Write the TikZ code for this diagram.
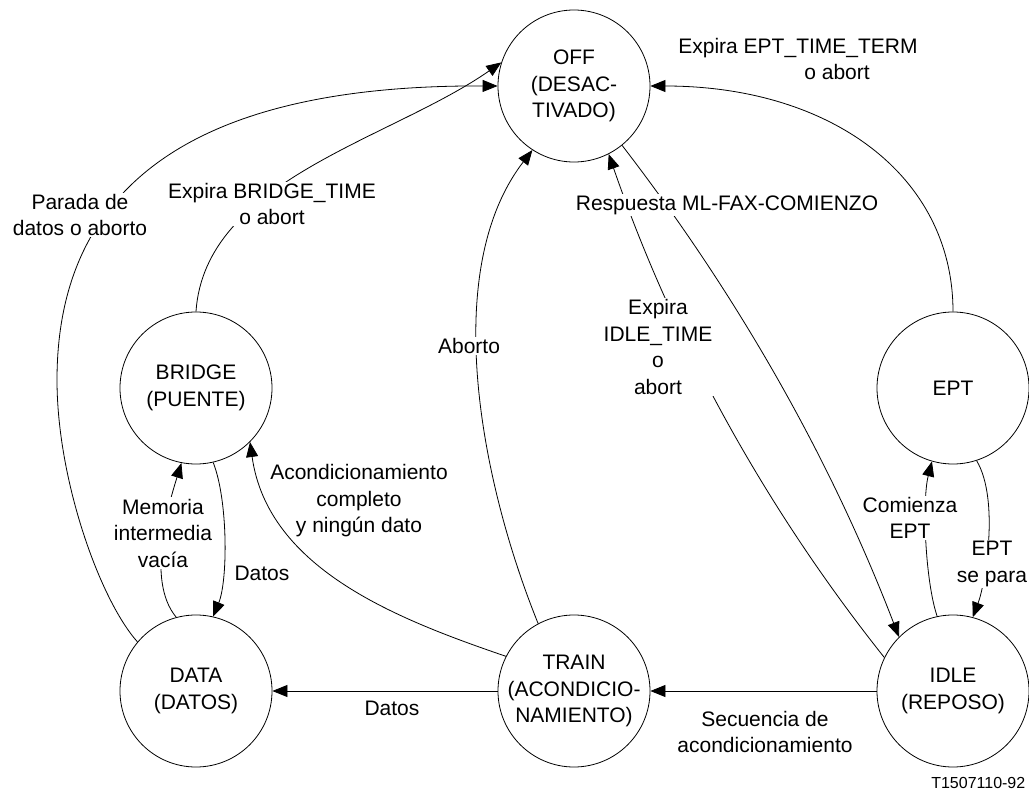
\documentclass[tikz,border=0pt]{standalone}
\usepackage{fontspec}
\setmainfont{Liberation Sans}
\usetikzlibrary{arrows.meta}
\begin{document}
\begin{tikzpicture}[x=1pt,y=-1pt,
  every node/.style={font=\fontsize{21}{26.5}\selectfont},
  state/.style={draw, circle, minimum size=152pt, inner sep=0pt, align=center, line width=0.8pt},
  conn/.style={line width=0.8pt, -{Triangle[length=15pt,width=12pt]}},
  lbl/.style={align=center, inner sep=1.5pt},
  cut/.style={lbl, fill=white},
]
\useasboundingbox (0,0) rectangle (1029,792);
\fill[white] (0,0) rectangle (1029,792);

% states
\node[state] (off)    at (574,86)  {OFF\\(DESAC-\\TIVADO)};
\node[state] (bridge) at (196,388) {BRIDGE\\(PUENTE)};
\node[state] (ept)    at (953,388) {EPT};
\node[state] (data)   at (196,691) {DATA\\(DATOS)};
\node[state] (train)  at (574,691) {TRAIN\\(ACONDICIO-\\NAMIENTO)};
\node[state] (idle)   at (953,691) {IDLE\\(REPOSO)};

% transitions
\draw[conn] (data.140) .. controls (100,600) and (57,480) .. (57,380)
                       .. controls (57,150) and (250,85) .. (off.180);
\draw[conn] (bridge.90) .. controls (205,180) and (390,140) .. (off.162);
\draw[conn] (train.118) .. controls (480,480) and (440,270) .. (off.237);
\draw[conn] (train.153) .. controls (400,620) and (268,570) .. (bridge.-45);
\draw[conn] (data.105) .. controls (145,580) and (170,500) .. (bridge.259);
\draw[conn] (bridge.-77) .. controls (228,500) and (228,580) .. (data.77);
\draw[conn] (train) -- (data);
\draw[conn] (idle) -- (train);
\draw[conn] (off.-51) .. controls (739,297) and (831,460) .. (idle.135);
\draw[conn] (idle.154) .. controls (763,505) and (672,337) .. (off.-63);
\draw[conn] (ept.90) .. controls (953,175) and (830,86) .. (off.0);
\draw[conn] (idle.102) .. controls (925,580) and (922,500) .. (ept.254);
\draw[conn] (ept.-72) .. controls (1000,500) and (985,585) .. (idle.75);

% transition labels
\node[cut] (lparada) at (80,215)  {Parada de\\datos o aborto};
\node[cut] (lbridge) at (272,204) {Expira BRIDGE\_TIME\\o abort};
\node[cut] (laborto) at (469,346) {Aborto};
\node[cut] (lresp)   at (727,205) {Respuesta ML-FAX-COMIENZO};
\node[cut] (lidle)   at (658,347) {Expira\\IDLE\_TIME\\o\\abort};
\node[lbl, align=left] (lept) at (798,59) {Expira EPT\_TIME\_TERM\\\hspace*{126pt}o abort};
\node[cut] (lmem)    at (163,533) {Memoria\\intermedia\\vacía};
\node[lbl] (ldatosa) at (262,573) {Datos};
\node[lbl] (lacond)  at (359,501) {Acondicionamiento\\completo\\y ningún dato};
\node[cut] (lcom)    at (910,518) {Comienza\\EPT};
\node[cut] (lpara)   at (992,564) {EPT\\se para};
\node[lbl] (ldatosb) at (392,708) {Datos};
\node[lbl] (lsec)    at (765,732) {Secuencia de\\acondicionamiento};
\node[lbl, font=\fontsize{16}{19}\selectfont, anchor=east] (code) at (1027,783) {T1507110-92};
\end{tikzpicture}
\end{document}
